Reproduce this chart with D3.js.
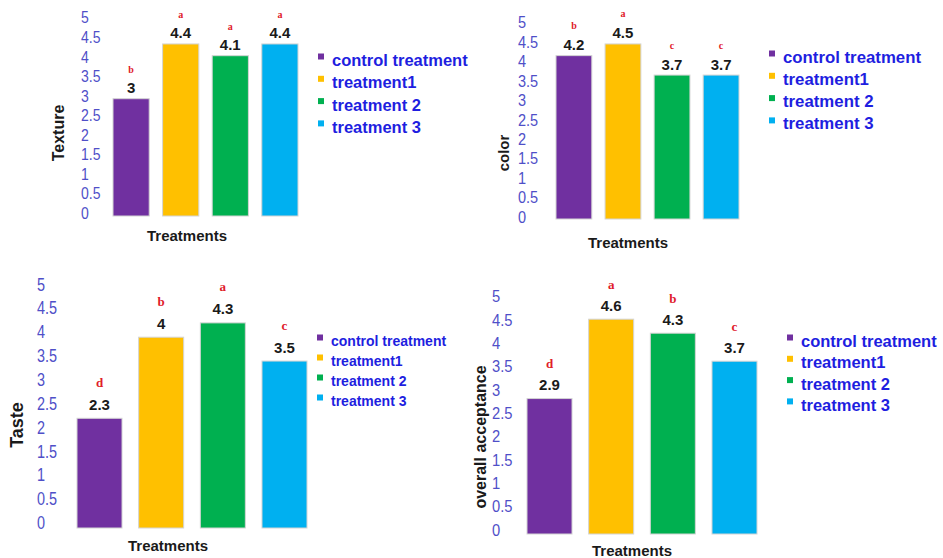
<!DOCTYPE html>
<html>
<meta charset="utf-8">
<head>
<style>
  body { margin: 0; background: #fff; }
  svg { display: block; }
  text { font-family: "Liberation Sans", Arial, sans-serif; }
</style>
<script src="https://d3js.org/d3.v7.min.js"></script>
</head>
<body>
<svg></svg>
<script>
// data
var treatments = ["control treatment", "treatment1", "treatment 2", "treatment 3"];
var barColors = ["#7030a0", "#ffc000", "#00b050", "#00b0f0"];

var textureValues = [3, 4.4, 4.1, 4.4];
var textureLetters = ["b", "a", "a", "a"];
var colorValues = [4.2, 4.5, 3.7, 3.7];
var colorLetters = ["b", "a", "c", "c"];
var tasteValues = [2.3, 4, 4.3, 3.5];
var tasteLetters = ["d", "b", "a", "c"];
var acceptValues = [2.9, 4.6, 4.3, 3.7];
var acceptLetters = ["d", "a", "b", "c"];

var yTicks = [0, 0.5, 1, 1.5, 2, 2.5, 3, 3.5, 4, 4.5, 5];

var width = 943, height = 558;
var svg = d3.select("svg").attr("width", width).attr("height", height);

// layout of each panel (pixels measured on the reference)
var panels = [
  {title: "Texture", values: textureValues, letters: textureLetters,
   xr: [113, 298], y0: 216, y5: 20.5, tickX: 81, tickShift: -3, tickSize: 16.5, tickSX: 0.85,
   valOff: 11, letOff: 29, letSize: 10,
   yt: [58, 133, 16], xt: [187, 235],
   leg: {x: 318, y: 60, dy: 22.3, size: 16.5}},
  {title: "color", values: colorValues, letters: colorLetters,
   xr: [556, 739], y0: 219, y5: 24.5, tickX: 518, tickShift: -2, tickSize: 16.5, tickSX: 0.88,
   valOff: 11, letOff: 30, letSize: 10,
   yt: [503, 153, 15], xt: [628, 242],
   leg: {x: 769, y: 57, dy: 22.3, size: 16.8}},
  {title: "Taste", values: tasteValues, letters: tasteLetters,
   xr: [77, 307], y0: 528, y5: 289.5, tickX: 37, tickShift: -5, tickSize: 18.5, tickSX: 0.78,
   valOff: 14, letOff: 36, letSize: 13,
   yt: [17, 425, 18], xt: [168, 545],
   leg: {x: 317, y: 341, dy: 20, size: 14}},
  {title: "overall acceptance", values: acceptValues, letters: acceptLetters,
   xr: [527, 757], y0: 534, y5: 300.5, tickX: 492, tickShift: -4, tickSize: 16, tickSX: 0.92,
   valOff: 14, letOff: 35, letSize: 13,
   yt: [480, 437, 16], xt: [632, 550],
   leg: {x: 787, y: 341, dy: 21.3, size: 16.5}}
];

panels.forEach(function(p) {
  var g = svg.append("g");

  var x = d3.scaleBand()
      .domain(treatments)
      .range(p.xr)
      .paddingInner(0.27)
      .paddingOuter(0);

  var y = d3.scaleLinear()
      .domain([0, 5])
      .range([p.y0, p.y5]);

  // tick labels (no axis line in the original), squeezed a bit horizontally
  g.selectAll(".tick")
    .data(yTicks)
    .enter().append("text")
    .attr("transform", function(d) {
      return "translate(" + p.tickX + "," + (y(d) + p.tickShift) + ") scale(" + p.tickSX + ",1)";
    })
    .attr("dominant-baseline", "central")
    .attr("font-size", p.tickSize)
    .attr("fill", "#4f4fc8")
    .text(function(d) { return d; });

  // bars
  g.selectAll("rect.bar")
    .data(p.values)
    .enter().append("rect")
    .attr("class", "bar")
    .attr("x", function(d, i) { return x(treatments[i]); })
    .attr("y", function(d) { return y(d); })
    .attr("width", x.bandwidth())
    .attr("height", function(d) { return y(0) - y(d); })
    .attr("fill", function(d, i) { return barColors[i]; })
    .attr("stroke", "#d4d4d4")
    .attr("stroke-width", 1);

  // value labels
  g.selectAll(".val")
    .data(p.values)
    .enter().append("text")
    .attr("x", function(d, i) { return x(treatments[i]) + x.bandwidth() / 2; })
    .attr("y", function(d) { return y(d) - p.valOff; })
    .attr("text-anchor", "middle")
    .attr("dominant-baseline", "central")
    .attr("font-size", 15)
    .attr("font-weight", "bold")
    .attr("fill", "#1a1a1a")
    .text(function(d) { return d; });

  // significance letters
  g.selectAll(".let")
    .data(p.values)
    .enter().append("text")
    .attr("x", function(d, i) { return x(treatments[i]) + x.bandwidth() / 2; })
    .attr("y", function(d) { return y(d) - p.letOff; })
    .attr("text-anchor", "middle")
    .attr("dominant-baseline", "central")
    .attr("font-size", p.letSize)
    .attr("font-weight", "bold")
    .attr("fill", "#e0202a")
    .style("font-family", "'Liberation Serif', 'Times New Roman', serif")
    .text(function(d, i) { return p.letters[i]; });

  // axis titles
  g.append("text")
    .attr("transform", "translate(" + p.yt[0] + "," + p.yt[1] + ") rotate(-90)")
    .attr("text-anchor", "middle")
    .attr("dominant-baseline", "central")
    .attr("font-size", p.yt[2])
    .attr("font-weight", "bold")
    .attr("fill", "#1a1a1a")
    .text(p.title);

  g.append("text")
    .attr("x", p.xt[0])
    .attr("y", p.xt[1])
    .attr("text-anchor", "middle")
    .attr("dominant-baseline", "central")
    .attr("font-size", 15)
    .attr("font-weight", "bold")
    .attr("fill", "#1a1a1a")
    .text("Treatments");

  // legend
  var leg = g.selectAll(".leg")
    .data(treatments)
    .enter().append("g")
    .attr("transform", function(d, i) { return "translate(" + p.leg.x + "," + (p.leg.y + i * p.leg.dy) + ")"; });

  leg.append("rect")
    .attr("x", 0)
    .attr("y", -6.5)
    .attr("width", 6)
    .attr("height", 6)
    .attr("fill", function(d, i) { return barColors[i]; });

  leg.append("text")
    .attr("x", 14)
    .attr("y", 0)
    .attr("dominant-baseline", "central")
    .attr("font-size", p.leg.size)
    .attr("font-weight", "bold")
    .attr("fill", "#1e1ee0")
    .text(function(d) { return d; });
});
</script>
</body>
</html>
